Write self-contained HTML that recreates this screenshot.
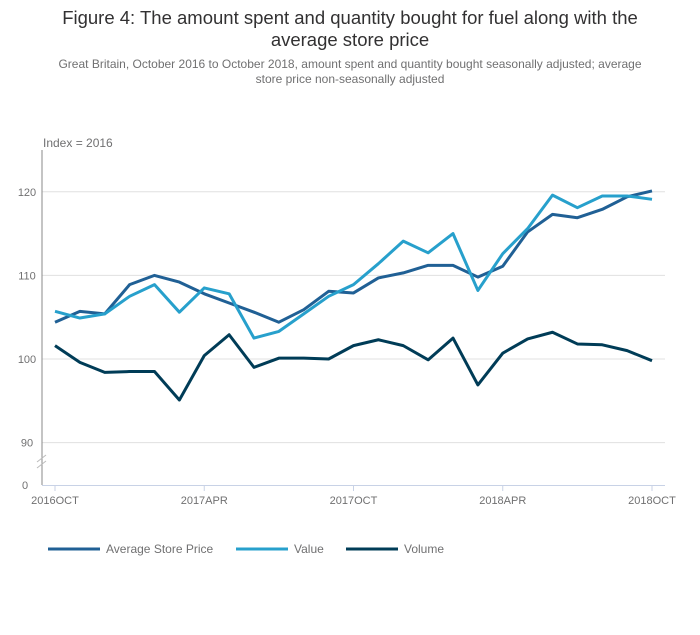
<!DOCTYPE html>
<html><head><meta charset="utf-8"><style>
body{margin:0;background:#fff;font-family:"Liberation Sans",sans-serif;}
#w{position:relative;width:700px;height:635px;}
.t{position:absolute;left:0;width:700px;text-align:center;color:#323132;}
</style></head><body>
<div id="w">
<div class="t" style="top:7px;font-size:18.5px;line-height:22px;">Figure 4: The amount spent and quantity bought for fuel along with the<br>average store price</div>
<div class="t" style="top:57px;font-size:12px;line-height:15px;color:#707071;">Great Britain, October 2016 to October 2018, amount spent and quantity bought seasonally adjusted; average<br>store price non-seasonally adjusted</div>
<svg id="c" width="700" height="635" style="position:absolute;left:0;top:0"></svg>
</div>
<script>
const months=["2016OCT","","","","","","2017APR","","","","","","2017OCT","","","","","","2018APR","","","","","","2018OCT"];
const yTicks=[90,100,110,120];
const avgPrice=[104.4,105.7,105.4,108.9,110,109.2,107.8,106.7,105.6,104.4,105.9,108.1,107.9,109.7,110.3,111.2,111.2,109.8,111.1,115.2,117.3,116.9,117.9,119.4,120.1];
const valueS=[105.7,104.9,105.4,107.5,108.9,105.6,108.5,107.8,102.5,103.3,105.4,107.5,108.9,111.4,114.1,112.7,115,108.2,112.6,115.6,119.6,118.1,119.5,119.5,119.1];
const volume=[101.6,99.6,98.4,98.5,98.5,95.1,100.4,102.9,99,100.1,100.1,100,101.6,102.3,101.6,99.9,102.5,96.9,100.7,102.4,103.2,101.8,101.7,101,99.8];
const seriesNames=["Average Store Price","Value","Volume"];
const svg=document.getElementById('c');const NS="http://www.w3.org/2000/svg";
function mk(t,a,p){const e=document.createElementNS(NS,t);for(const k in a)e.setAttribute(k,a[k]);(p||svg).appendChild(e);return e;}
const x=i=>55+i*(652-55)/(months.length-1);
const y=v=>359-(v-100)*8.36;
// gridlines + y labels
yTicks.forEach(v=>{const g=mk('line',{x1:42,x2:665,y1:y(v),y2:y(v),stroke:'#e0e0e0','stroke-width':1});


const t=mk('text',{x:27,y:y(v)+4,'font-size':11,fill:'#707071','text-anchor':'middle'});t.textContent=v;

});
const z=mk('text',{x:25,y:489,'font-size':11,fill:'#707071','text-anchor':'middle'});z.textContent='0';


const ya=mk('line',{x1:42,x2:42,y1:150,y2:485,stroke:'#8a8a8a','stroke-width':1});


[0,6].forEach(o=>{const b=mk('line',{x1:37,x2:46,y1:462+o,y2:455+o,stroke:'#bbb','stroke-width':1});

});
const xa=mk('line',{x1:42,x2:665,y1:485.5,y2:485.5,stroke:'#c8d2e6','stroke-width':1});


months.forEach((m,i)=>{if(!m)return;const tk=mk('line',{x1:x(i),x2:x(i),y1:485,y2:491,stroke:'#c8d2e6'});


const t=mk('text',{x:x(i),y:504,'font-size':11,fill:'#707071','text-anchor':'middle'});t.textContent=m;

});
const yt=mk('text',{x:43,y:147,'font-size':12,fill:'#707071'});yt.textContent='Index = 2016';


const cols=['#206095','#27a0cc','#003c57'];
[avgPrice,valueS,volume].forEach((d,s)=>{const p=mk('polyline',{points:d.map((v,i)=>x(i)+','+y(v)).join(' '),fill:'none',stroke:cols[s],'stroke-width':3,'stroke-linejoin':'round'});

});
const lx=[48,236,346];
seriesNames.forEach((n,s)=>{const l=mk('line',{x1:lx[s],x2:lx[s]+52,y1:549,y2:549,stroke:cols[s],'stroke-width':3});


const t=mk('text',{x:lx[s]+58,y:553,'font-size':12,fill:'#707071'});t.textContent=n;

});
</script></body></html>
